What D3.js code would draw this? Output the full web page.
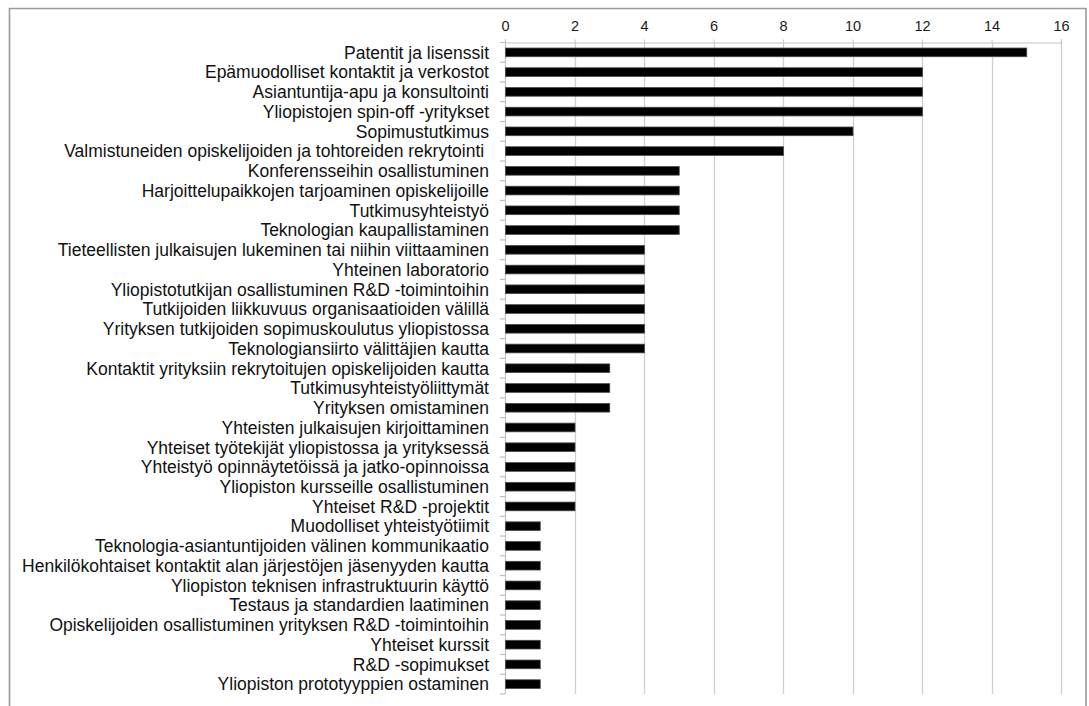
<!DOCTYPE html>
<html>
<head>
<meta charset="utf-8">
<script src="https://cdn.jsdelivr.net/npm/d3@7"></script>
<style>
  html, body { margin: 0; padding: 0; background: #fff; }
  svg { display: block; }
  text { font-family: "Liberation Sans", Arial, sans-serif; }
</style>
</head>
<body>
<svg id="chart" width="1089" height="706"></svg>
<script>
// Yhteistyömuodot ja niiden mainintojen määrä
const categories = [
  "Patentit ja lisenssit",
  "Epämuodolliset kontaktit ja verkostot",
  "Asiantuntija-apu ja konsultointi",
  "Yliopistojen spin-off -yritykset",
  "Sopimustutkimus",
  "Valmistuneiden opiskelijoiden ja tohtoreiden rekrytointi ",
  "Konferensseihin osallistuminen",
  "Harjoittelupaikkojen tarjoaminen opiskelijoille",
  "Tutkimusyhteistyö",
  "Teknologian kaupallistaminen",
  "Tieteellisten julkaisujen lukeminen tai niihin viittaaminen",
  "Yhteinen laboratorio",
  "Yliopistotutkijan osallistuminen R&D -toimintoihin",
  "Tutkijoiden liikkuvuus organisaatioiden välillä",
  "Yrityksen tutkijoiden sopimuskoulutus yliopistossa",
  "Teknologiansiirto välittäjien kautta",
  "Kontaktit yrityksiin rekrytoitujen opiskelijoiden kautta",
  "Tutkimusyhteistyöliittymät",
  "Yrityksen omistaminen",
  "Yhteisten julkaisujen kirjoittaminen",
  "Yhteiset työtekijät yliopistossa ja yrityksessä",
  "Yhteistyö opinnäytetöissä ja jatko-opinnoissa",
  "Yliopiston kursseille osallistuminen",
  "Yhteiset R&D -projektit",
  "Muodolliset yhteistyötiimit",
  "Teknologia-asiantuntijoiden välinen kommunikaatio",
  "Henkilökohtaiset kontaktit alan järjestöjen jäsenyyden kautta",
  "Yliopiston teknisen infrastruktuurin käyttö",
  "Testaus ja standardien laatiminen",
  "Opiskelijoiden osallistuminen yrityksen R&D -toimintoihin",
  "Yhteiset kurssit",
  "R&D -sopimukset",
  "Yliopiston prototyyppien ostaminen"
];

const values = [
  15, 12, 12, 12, 10, 8,
  5, 5, 5, 5,
  4, 4, 4, 4, 4, 4,
  3, 3, 3,
  2, 2, 2, 2, 2,
  1, 1, 1, 1, 1, 1, 1, 1, 1
];

const xTicks = [0, 2, 4, 6, 8, 10, 12, 14, 16];

const data = categories.map((c, i) => ({ name: c, value: values[i] }));

const svg = d3.select("#chart");
const plot = { left: 505, right: 1061, top: 42.5, bottom: 694 };

const x = d3.scaleLinear().domain([0, 16]).range([plot.left, plot.right]);
const y = d3.scaleBand()
  .domain(categories)
  .range([plot.top, plot.bottom])
  .paddingInner(0.56)
  .paddingOuter(0.28);

// outer frame (open at the bottom)
svg.append("path")
  .attr("d", `M9.5,706 V8.5 H1086 V706`)
  .attr("fill", "none")
  .attr("stroke", "#9a9a9a")
  .attr("stroke-width", 1.6);

// vertical gridlines
svg.append("g")
  .selectAll("line")
  .data(xTicks.filter(t => t > 0))
  .join("line")
  .attr("x1", d => Math.round(x(d)) + 0.5)
  .attr("x2", d => Math.round(x(d)) + 0.5)
  .attr("y1", plot.top)
  .attr("y2", plot.bottom)
  .attr("stroke", "#cfcfcf")
  .attr("stroke-width", 1.3);

// top value axis
const xAxis = d3.axisTop(x).tickValues(xTicks).tickSize(3).tickPadding(9).tickFormat(d3.format("d"));
const gx = svg.append("g").attr("transform", `translate(0,${plot.top})`).call(xAxis);
gx.select(".domain").attr("stroke", "#c4c4c4").attr("stroke-width", 1.2);
gx.selectAll(".tick line").attr("stroke", "#c4c4c4");
gx.selectAll(".tick text")
  .attr("font-size", 14.5)
  .attr("fill", "#1a1a1a")
  .style("font-family", "'Liberation Sans', Arial, sans-serif");

// category axis: line with tick marks on band boundaries
svg.append("line")
  .attr("x1", plot.left + 0.5).attr("x2", plot.left + 0.5)
  .attr("y1", plot.top).attr("y2", plot.bottom)
  .attr("stroke", "#c4c4c4").attr("stroke-width", 1.2);

const boundaries = categories.map(c => y(c) - (y.step() - y.bandwidth()) / 2);
boundaries.push(plot.bottom);
svg.append("g")
  .selectAll("line")
  .data(boundaries)
  .join("line")
  .attr("x1", plot.left - 5)
  .attr("x2", plot.left)
  .attr("y1", d => d)
  .attr("y2", d => d)
  .attr("stroke", "#bdbdbd")
  .attr("stroke-width", 1.2);

// category labels
svg.append("g")
  .selectAll("text")
  .data(data)
  .join("text")
  .attr("x", plot.left - 16)
  .attr("y", d => y(d.name) + y.bandwidth() / 2)
  .attr("dy", "0.36em")
  .attr("text-anchor", "end")
  .attr("font-size", 17.5)
  .attr("fill", "#111")
  .style("white-space", "pre")
  .text(d => d.name);

// bars
svg.append("g")
  .selectAll("rect")
  .data(data)
  .join("rect")
  .attr("x", x(0) + 0.5)
  .attr("y", d => y(d.name))
  .attr("width", d => x(d.value) - x(0))
  .attr("height", y.bandwidth())
  .attr("fill", "#000")
  .attr("stroke", "#4a4a4a")
  .attr("stroke-width", 0.8);
</script>
</body>
</html>
